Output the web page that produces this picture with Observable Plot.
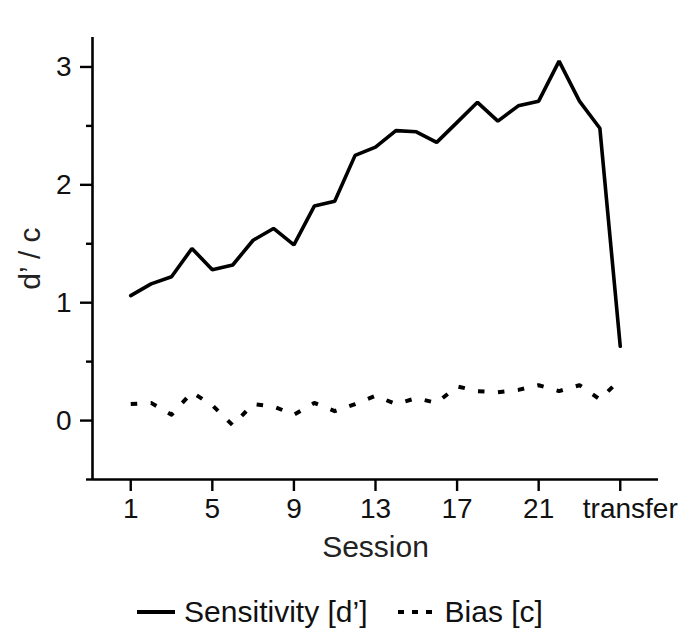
<!DOCTYPE html>
<html>
<head>
<meta charset="utf-8">
<script src="https://cdn.jsdelivr.net/npm/d3@7"></script>
<script src="https://cdn.jsdelivr.net/npm/@observablehq/plot@0.6"></script>
<style>
  html, body { margin: 0; padding: 0; background: #fff; }
  body { font-family: "Liberation Sans", Arial, Helvetica, sans-serif; color: #111; width: 680px; height: 641px; position: relative; overflow: hidden; }
  #chart { position: absolute; left: 0; top: 0; }
  #legend { position: absolute; left: 0; top: 594px; width: 680px; height: 36px; display: flex; justify-content: center; align-items: center; font-size: 30px; color: #111; }
  #legend svg { display: block; }
</style>
</head>
<body>
<div id="chart"></div>
<div id="legend"></div>
<script>
// ---- data ----
const sessions = [1, 2, 3, 4, 5, 6, 7, 8, 9, 10, 11, 12, 13, 14, 15, 16, 17, 18, 19, 20, 21, 22, 23, 24, 25];
const sensitivity = [1.06, 1.16, 1.22, 1.46, 1.28, 1.32, 1.53, 1.63, 1.49, 1.82, 1.86, 2.25, 2.32, 2.46, 2.45, 2.36, 2.53, 2.70, 2.54, 2.67, 2.71, 3.05, 2.71, 2.48, 0.63];
const bias = [0.14, 0.15, 0.05, 0.24, 0.13, -0.04, 0.14, 0.12, 0.05, 0.15, 0.08, 0.14, 0.21, 0.14, 0.19, 0.15, 0.29, 0.25, 0.24, 0.26, 0.30, 0.25, 0.30, 0.18, 0.35];
const xTicks = [1, 5, 9, 13, 17, 21, 25];
const xTickLabels = ["1", "5", "9", "13", "17", "21", "transfer"];
const yTicks = [0, 1, 2, 3];
const yMinorTicks = [-0.5, 0.5, 1.5, 2.5];
const xTitle = "Session";
const yTitle = "d\u2019 / c";
const seriesNames = ["Sensitivity [d\u2019]", "Bias [c]"];

const xDomain = [-0.875, 26.875];
const yDomain = [-0.5, 3.25];

const rows = sessions.map((s, i) => ({session: s, d: sensitivity[i], c: bias[i]}));
const lastTick = xTicks[xTicks.length - 1];

const chart = Plot.plot({
  width: 680,
  height: 572,
  marginLeft: 92,
  marginRight: 22,
  marginTop: 37,
  marginBottom: 93,
  x: {domain: xDomain},
  y: {domain: yDomain},
  style: {fontFamily: "'Liberation Sans', Arial, Helvetica, sans-serif", fontSize: "28px", color: "#111", background: "#fff", overflow: "visible"},
  marks: [
    // axis lines
    Plot.ruleX([xDomain[0]], {stroke: "#000", strokeWidth: 2.6}),
    Plot.ruleY([yDomain[0]], {stroke: "#000", strokeWidth: 2.6}),
    // y axis: minor and major ticks
    Plot.axisY(yMinorTicks, {tickSize: 6, tickFormat: () => "", strokeWidth: 2.4, stroke: "#000", label: null}),
    Plot.axisY(yTicks, {tickSize: 12, tickPadding: 9, strokeWidth: 2.4, stroke: "#000", fontSize: 28, label: null,
      tickFormat: d => String(d)}),
    // x axis ticks and numeric labels
    Plot.axisX(xTicks, {tickSize: 12, tickPadding: 7, strokeWidth: 2.4, stroke: "#000", fontSize: 28, label: null,
      tickFormat: d => d === lastTick ? "" : xTickLabels[xTicks.indexOf(d)]}),
    Plot.text([lastTick], {x: d => d, text: d => xTickLabels[xTicks.indexOf(d)], frameAnchor: "bottom", lineAnchor: "top", dy: 19, dx: 10, fontSize: 28, fill: "#111"}),
    // axis titles
    Plot.text([xTitle], {frameAnchor: "bottom", lineAnchor: "middle", dy: 68, fontSize: 30, fill: "#222"}),
    Plot.text([yTitle], {frameAnchor: "left", textAnchor: "middle", lineAnchor: "middle", rotate: -90, dx: -62, fontSize: 30, fill: "#222"}),
    // series
    Plot.line(rows, {x: "session", y: "d", stroke: "#000", strokeWidth: 3.6, strokeLinejoin: "miter"}),
    Plot.line(rows, {x: "session", y: "c", stroke: "#000", strokeWidth: 4, strokeDasharray: "6.5,13.5", strokeLinecap: "butt"})
  ]
});
document.getElementById("chart").appendChild(chart);

// legend
const legend = document.getElementById("legend");
const ns = "http://www.w3.org/2000/svg";
function swatch(dashed) {
  const w = dashed ? 34 : 38;
  const svg = document.createElementNS(ns, "svg");
  svg.setAttribute("width", w);
  svg.setAttribute("height", 10);
  const line = document.createElementNS(ns, "line");
  line.setAttribute("x1", 0); line.setAttribute("x2", w);
  line.setAttribute("y1", 5); line.setAttribute("y2", 5);
  line.setAttribute("stroke", "#000");
  line.setAttribute("stroke-width", 4);
  if (dashed) line.setAttribute("stroke-dasharray", "6,8");
  svg.appendChild(line);
  return svg;
}
seriesNames.forEach((name, i) => {
  const sw = swatch(i === 1);
  sw.style.marginRight = (i === 1 ? 13 : 9) + "px";
  if (i === 1) sw.style.marginLeft = "30px";
  legend.appendChild(sw);
  const span = document.createElement("span");
  span.textContent = name;
  legend.appendChild(span);
});
</script>
</body>
</html>
